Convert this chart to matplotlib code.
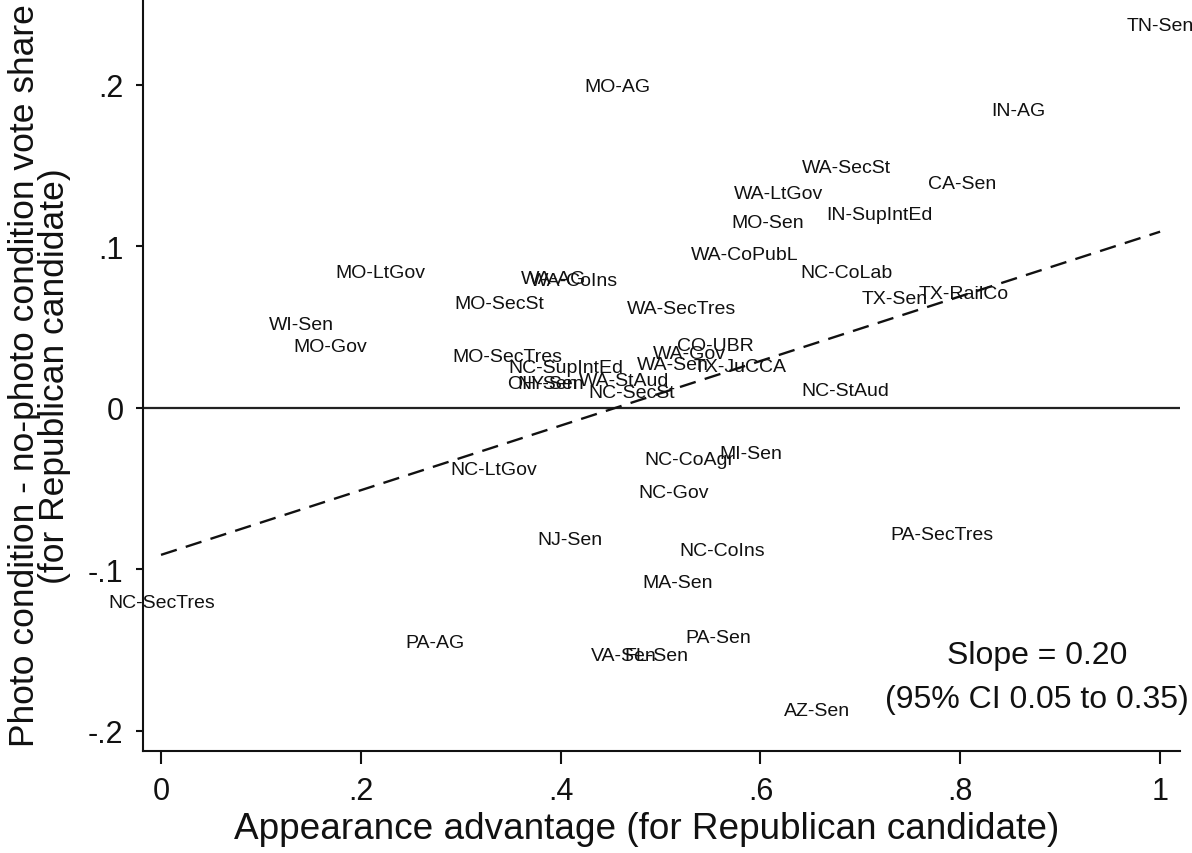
import matplotlib
matplotlib.use('Agg')
import matplotlib.pyplot as plt
import matplotlib.ticker as ticker

# Races: appearance advantage vs. photo effect on Republican vote share
races = ['TN-Sen', 'MO-AG', 'IN-AG', 'WA-SecSt', 'CA-Sen', 'WA-LtGov', 'IN-SupIntEd',
         'MO-Sen', 'WA-CoPubL', 'MO-LtGov', 'NC-CoLab', 'WA-AG', 'WA-CoIns', 'MO-SecSt',
         'TX-Sen', 'TX-RailCo', 'WA-SecTres', 'WI-Sen', 'MO-Gov', 'CO-UBR', 'WA-Gov',
         'MO-SecTres', 'NC-SupIntEd', 'WA-Sen', 'TX-JuCCA', 'WA-StAud', 'OH-Sen', 'NY-Sen',
         'NC-SecSt', 'NC-StAud', 'NC-LtGov', 'NC-CoAgr', 'MI-Sen', 'NC-Gov', 'PA-SecTres',
         'NJ-Sen', 'NC-CoIns', 'MA-Sen', 'NC-SecTres', 'PA-AG', 'PA-Sen', 'VA-Sen',
         'FL-Sen', 'AZ-Sen']
advantage = [1.000, 0.457, 0.858, 0.686, 0.802, 0.618, 0.719,
             0.607, 0.584, 0.220, 0.686, 0.393, 0.413, 0.339,
             0.734, 0.803, 0.521, 0.141, 0.169, 0.555, 0.529,
             0.347, 0.405, 0.512, 0.580, 0.463, 0.382, 0.390,
             0.471, 0.685, 0.333, 0.529, 0.590, 0.513, 0.782,
             0.409, 0.562, 0.517, 0.001, 0.274, 0.558, 0.463,
             0.496, 0.657]
vote_diff = [0.238, 0.200, 0.185, 0.150, 0.140, 0.134, 0.121,
             0.116, 0.096, 0.085, 0.085, 0.081, 0.080, 0.066,
             0.069, 0.072, 0.063, 0.053, 0.039, 0.040, 0.035,
             0.033, 0.026, 0.028, 0.027, 0.018, 0.016, 0.016,
             0.0105, 0.012, -0.037, -0.031, -0.027, -0.051, -0.077,
             -0.080, -0.087, -0.107, -0.119, -0.144, -0.141, -0.152,
             -0.152, -0.186]

slope = 0.20
intercept = -0.091
x_ticks = [0, 0.2, 0.4, 0.6, 0.8, 1.0]
y_ticks = [-0.2, -0.1, 0, 0.1, 0.2]

plt.rcParams['font.family'] = ['Liberation Sans', 'DejaVu Sans']

fig = plt.figure(figsize=(11.92, 8.54), dpi=100)
ax = fig.add_axes([0.12, 0.1194, 0.87, 0.8806])

ink = '#111111'

# state/office labels centred on each point (no markers)
for name, x, y in zip(races, advantage, vote_diff):
    ax.text(x, y, name, ha='center', va='center_baseline', fontsize=14, color=ink)

# zero line and fitted line
ax.axhline(0, color='#222222', lw=1.6)
ax.plot([0, 1], [intercept, intercept + slope], ls=(0, (7, 4)), color=ink, lw=1.7)

ax.text(0.877, -0.153, 'Slope = %.2f' % slope, ha='center', va='center', fontsize=23, color=ink)
ax.text(0.877, -0.180, '(95% CI 0.05 to 0.35)', ha='center', va='center', fontsize=23, color=ink)

ax.set_xlim(-0.018, 1.02)
ax.set_ylim(-0.2124, 0.253)

def strip_zero(v, pos):
    s = ('%g' % round(v, 2))
    if s.startswith('0.'):
        s = s[1:]
    elif s.startswith('-0.'):
        s = '-' + s[2:]
    return s

ax.xaxis.set_major_locator(ticker.FixedLocator(x_ticks))
ax.yaxis.set_major_locator(ticker.FixedLocator(y_ticks))
ax.xaxis.set_major_formatter(ticker.FuncFormatter(strip_zero))
ax.yaxis.set_major_formatter(ticker.FuncFormatter(strip_zero))

for side in ['top', 'right']:
    ax.spines[side].set_visible(False)
for side in ['left', 'bottom']:
    ax.spines[side].set_linewidth(1.5)
    ax.spines[side].set_color(ink)

ax.tick_params(axis='x', direction='out', length=9, width=1.5, pad=9, labelsize=22, colors=ink)
ax.tick_params(axis='y', direction='out', length=5, width=1.5, pad=9, labelsize=22, colors=ink)

ax.set_xlabel('Appearance advantage (for Republican candidate)', fontsize=26.6, color=ink)
ax.xaxis.set_label_coords(0.486, -0.08)
ax.set_ylabel('Photo condition - no-photo condition vote share\n(for Republican candidate)',
              fontsize=25.5, color=ink, linespacing=0.92)
ax.yaxis.set_label_coords(-0.069, 0.5)

fig.savefig('out.png', dpi=100)
